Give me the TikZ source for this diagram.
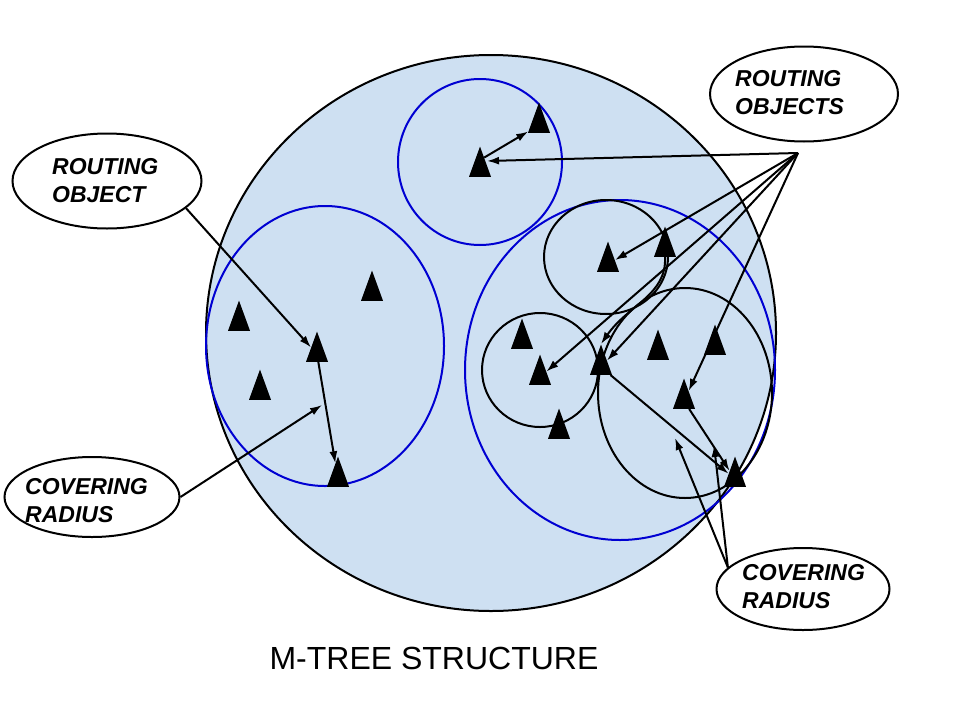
\documentclass[tikz,border=0pt]{standalone}
\usepackage{fontspec}
\setmainfont{Liberation Sans}
\usetikzlibrary{arrows.meta,shapes.geometric}
\definecolor{sky}{RGB}{206,224,242}
\definecolor{ring}{RGB}{0,0,210}
\tikzset{obj/.style={isosceles triangle, isosceles triangle apex angle=40, shape border rotate=90,
    fill=black, inner sep=0pt, minimum width=22pt, minimum height=30pt, anchor=lower side}}
\tikzset{arr/.style={line width=2pt, -{Latex[length=12pt,width=8pt]}}}
\tikzset{bubble/.style={ellipse, draw, line width=2pt, inner sep=0pt}}
\tikzset{tag/.style={font=\fontsize{23}{28}\selectfont\bfseries\itshape, align=left, anchor=west, inner sep=0pt}}

\begin{document}
\begin{tikzpicture}[x=1pt,y=-1pt]
  \useasboundingbox (0,0) rectangle (960,720);
  % regions
  \draw[line width=2pt, fill=sky] (491,333) ellipse [x radius=285, y radius=278];
  \draw[ring, line width=2pt] (325,346) ellipse [x radius=119, y radius=140]
    (480,162) ellipse [x radius=82, y radius=83]
    (620,370) ellipse [x radius=155, y radius=170];
  \draw[line width=2pt] (606,257) ellipse [x radius=62, y radius=57]
    (540,370) ellipse [x radius=58, y radius=57]
    (685,393) ellipse [x radius=87, y radius=105];

  % objects
  \node[obj] (r1) at (480,177) {};
  \node[obj] (r2) at (539,133) {};
  \node[obj] (l1) at (317,362) {};
  \node[obj] (l5) at (338,487) {};
  \node[obj] (a1) at (608,272) {};
  \node[obj] (a2) at (665,257) {};
  \node[obj] (b1) at (540,385) {};
  \node[obj] (m) at (601,375) {};
  \node[obj] (c1) at (684,409) {};
  \node[obj] (c4) at (735,487) {};
  \foreach \p [count=\i] in {(372,301),(239,331),(260,400),(522,349),(559,439),(658,360),(715,355)}
    \node[obj] (x\i) at \p {};

  % labels
  \node[bubble, minimum width=189, minimum height=95] (ro) at (107,181) {};
  \node[tag] (rot) at (52,181) {ROUTING\\OBJECT};
  \node[bubble, minimum width=188, minimum height=95] (ros) at (804,94) {};
  \node[tag] (rost) at (735,93) {ROUTING\\OBJECTS};
  \node[bubble, minimum width=175, minimum height=80] (crl) at (92,497) {};
  \node[tag] (crlt) at (25,501) {COVERING\\RADIUS};
  \node[bubble, minimum width=173, minimum height=82] (crr) at (803,589) {};
  \node[tag] (crrt) at (742,587) {COVERING\\RADIUS};
  \node[font=\fontsize{32}{38}\selectfont] (title) at (434,658) {M-TREE STRUCTURE};

  % connectors
  \coordinate (fan) at (798,153);
  \coordinate (hitl) at (322,405);
  \coordinate (hitc) at (675,438);
  \coordinate (hitd) at (714,445);
  \draw[arr] (r1.70) -- (r2);
  \draw[arr] (l1) -- (l5);
  \draw[arr] (m) -- (c4);
  \draw[arr] (c1) -- (c4);
  \draw[arr] (a2.lower side) .. controls (667,295) and (628,305) .. (m.apex);
  \draw[arr] (fan) -- ([shift={(7,15)}]r1.apex);
  \foreach \t in {a1,b1,m,c1}
    \draw[arr] (fan) -- (\t);
  \draw[arr] (ro.-19) -- (l1);
  \draw[arr] (crl.east) -- (hitl);
  \draw[arr] (crr.164) -- (hitc);
  \draw[arr] (crr.164) -- (hitd);
\end{tikzpicture}
\end{document}
